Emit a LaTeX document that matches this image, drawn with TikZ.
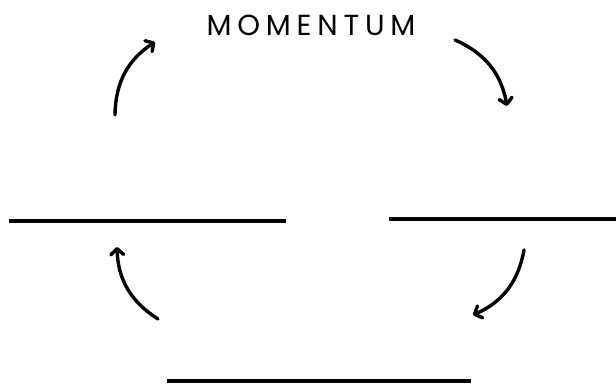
\documentclass[tikz,border=0pt]{standalone}
\usepackage{fontspec}
\newfontfamily\titlefont[LetterSpace=20]{Poppins}
\usetikzlibrary{arrows.meta}
\tikzset{
 blank/.style={line width=4pt},
 cyclearrow/.style={line width=3.4pt,line cap=round,-{Straight Barb[length=6pt,width=13pt,round]},bend left=28},
 title/.style={font=\titlefont\fontsize{29}{29}\selectfont,inner sep=0}
}
\begin{document}
\begin{tikzpicture}[x=1pt,y=1pt]
\path[use as bounding box] (0,0) rectangle (616,385);
\node[title,anchor=base] (momentum) at (311,349) {MOMENTUM};
% blanks
\coordinate (L1) at (9,164);
\coordinate (L2) at (286,164);
\coordinate (R1) at (389,166);
\coordinate (R2) at (616,166);
\coordinate (B1) at (167,4);
\coordinate (B2) at (471,4);
\draw[blank] (L1) -- (L2);
\draw[blank] (R1) -- (R2);
\draw[blank] (B1) -- (B2);
% arrows
\coordinate (tlstart) at (115,270);
\coordinate (tlend) at (155,343);
\coordinate (trstart) at (455,345);
\coordinate (trend) at (507,279);
\coordinate (brstart) at (524,135);
\coordinate (brend) at (473,70);
\coordinate (blstart) at (158,66);
\coordinate (blend) at (117,138);
\draw[cyclearrow] (tlstart) to (tlend);
\draw[cyclearrow] (trstart) to (trend);
\draw[cyclearrow] (brstart) to (brend);
\draw[cyclearrow] (blstart) to (blend);
\end{tikzpicture}
\end{document}
